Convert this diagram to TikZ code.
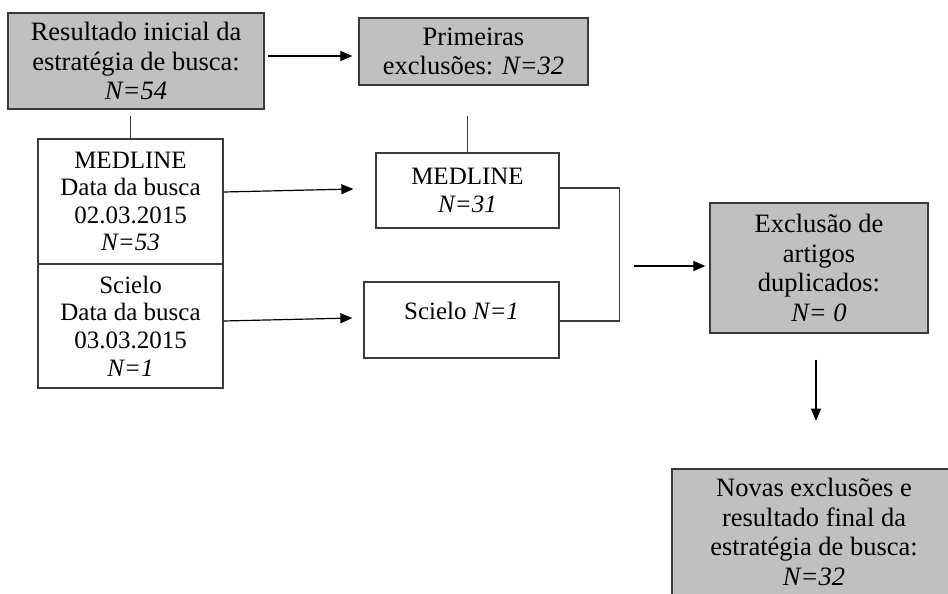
\documentclass[tikz,border=0pt]{standalone}
\usepackage{fontspec}
\setmainfont{Liberation Serif}
\usetikzlibrary{arrows.meta}
\definecolor{greyfill}{HTML}{C0C0C0}
\definecolor{edgecol}{HTML}{3A3A3A}
\tikzset{
  boxbase/.style={draw=edgecol, line width=1.3pt, inner sep=0pt, align=center, anchor=center},
  greybox/.style={boxbase, fill=greyfill, font=\fontsize{26.5}{29.5}\selectfont},
  whitebox/.style={boxbase, fill=white, font=\fontsize{25}{27.6}\selectfont},
  conn/.style={draw=black, line width=1.2pt},
  arr/.style={conn, -{Triangle[length=12pt,width=10pt]}},
  plainline/.style={draw=edgecol, line width=1.1pt}
}
\begin{document}
\begin{tikzpicture}[x=1pt,y=-1pt]
\clip (0,0) rectangle (948,594);
\fill[white] (0,0) rectangle (948,594);
% boxes
\node[greybox, minimum width=256pt, minimum height=96pt] (top) at (136,61)
  {Resultado inicial da\\estratégia de busca:\\\textit{N=54}};
\node[greybox, minimum width=229pt, minimum height=67pt] (prim) at (473.5,51.5)
  {Primeiras\\exclusões: \textit{N=32}};
\node[whitebox, minimum width=185pt, minimum height=125pt] (lmed) at (130.5,201.5)
  {MEDLINE\\Data da busca\\02.03.2015\\\textit{N=53}};
\node[whitebox, minimum width=185pt, minimum height=124pt] (lsci) at (130.5,326)
  {Scielo\\Data da busca\\03.03.2015\\\textit{N=1}};
\node[whitebox, minimum width=183pt, minimum height=75pt] (rmed) at (467.5,190.5)
  {MEDLINE\\\textit{N=31}};
\node[whitebox, minimum width=195pt, minimum height=76pt] (rsci) at (461.5,320)
  {Scielo \textit{N=1}\\[-10pt]\mbox{}};
\node[greybox, minimum width=218pt, minimum height=130pt] (excl) at (819,268)
  {Exclusão de\\artigos\\duplicados:\\\textit{N= 0}};
\node[greybox, minimum width=284pt, minimum height=155pt] (final) at (814,546.5)
  {Novas exclusões e\\resultado final da\\estratégia de busca:\\\textit{N=32}\\\mbox{}};
% connectors
\draw[arr] ([xshift=3pt,yshift=5pt]top.east) -- ([xshift=-6pt,yshift=5pt]top.east -| prim.west);
\draw[plainline] ([yshift=-6pt]lmed.north |- top.south) -- (lmed.north);
\draw[plainline] ([yshift=-30pt]rmed.north |- prim.south) -- (rmed.north);
\draw[arr] ([yshift=9.5pt]lmed.east) -- ([xshift=-22pt,yshift=1.5pt]rmed.west);
\draw[arr] ([yshift=5pt]lsci.east) -- ([xshift=-11pt,yshift=2pt]rsci.west);
\draw[plainline] ([yshift=2.5pt]rmed.east) -- ++(60,0) |- ([yshift=-1pt]rsci.east);
\draw[arr] ([xshift=-75pt,yshift=2pt]excl.west) -- ([xshift=-4pt,yshift=2pt]excl.west);
\draw[arr] ([xshift=-3pt,yshift=-26pt]excl.south) -- ([xshift=-3pt,yshift=-87pt]excl.south);
\end{tikzpicture}
\end{document}
